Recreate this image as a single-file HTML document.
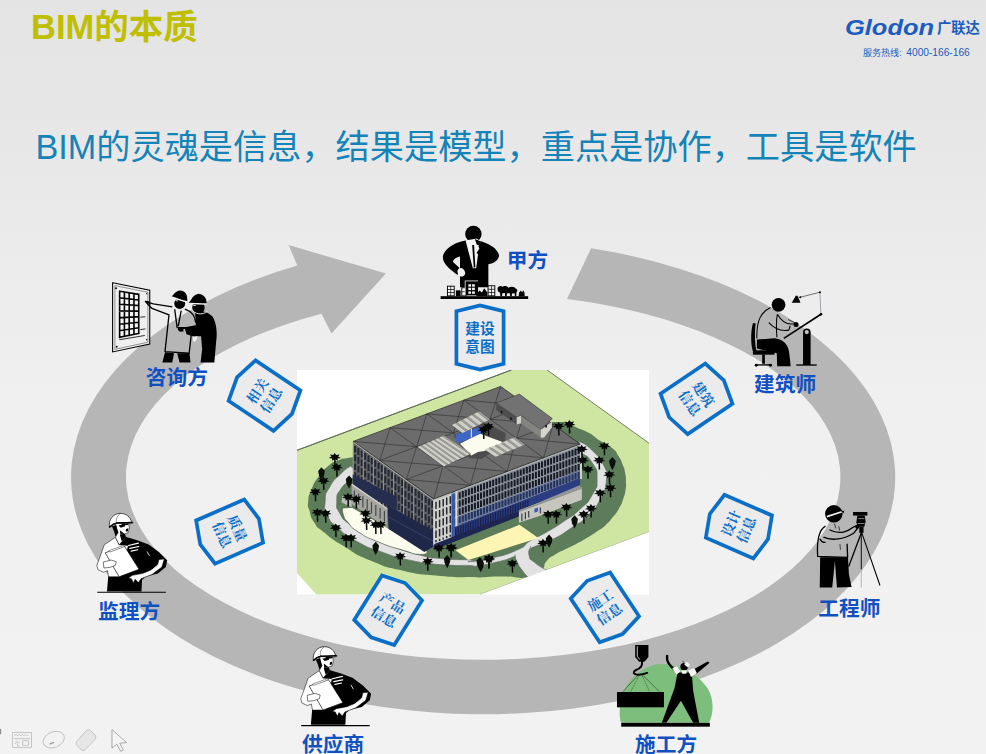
<!DOCTYPE html>
<html><head><meta charset="utf-8"><title>BIM</title>
<style>html,body{margin:0;padding:0;background:#ececec;font-family:"Liberation Sans",sans-serif}body{width:986px;height:754px;overflow:hidden}</style>
</head><body><svg width="986" height="754" viewBox="0 0 986 754" style="display:block"><desc>BIM的本质 — BIM的灵魂是信息，结果是模型，重点是协作，工具是软件。甲方 建筑师 工程师 施工方 供应商 监理方 咨询方；建设意图 建筑信息 设计信息 施工信息 产品信息 质量信息 相关信息。Glodon 广联达 服务热线: 4000-166-166</desc><defs>
<linearGradient id="bg" x1="0" y1="0" x2="0" y2="1">
<stop offset="0" stop-color="#e3e4e3"/><stop offset="0.13" stop-color="#e6e6e6"/><stop offset="0.33" stop-color="#ebebeb"/><stop offset="0.53" stop-color="#f0f0f0"/><stop offset="1" stop-color="#f2f2f2"/>
</linearGradient>
</defs>
<rect width="986" height="754" fill="url(#bg)"/>
<path d="M591.1 248.3A412.1 237.1 0 1 1 297.3 265.5L288.6 245L385.9 273.6L331.5 333.5L321.5 313.8A357.2 182.9 0 1 0 567.0 299.1Z" fill="#b6b6b6"/>
<clipPath id="bc"><rect x="297" y="370" width="352" height="224.5"/></clipPath><rect x="297" y="370" width="352" height="224.5" fill="#fff"/><g clip-path="url(#bc)"><path fill="#cfe6a2" d="M297.0 450.3L511.4 370.0L547.1 370.0L649.0 443.2L649.0 532.0L480.1 594.5L316.6 594.8L297.0 573.0Z"/><path fill="none" stroke="#55604a" stroke-width="0.8" d="M297.0 450.3L511.4 370.0"/><path fill="none" stroke="#55604a" stroke-width="0.8" d="M297.0 450.3L515.0 368.6M545.5 368.8L649.0 443.2"/><path fill="none" stroke="#8a967a" stroke-width="0.7" d="M649.0 532.0L480.1 594.5"/><path fill="#5c7c5a" d="M351.1 457.4C339.8 459.5 345.7 457.4 337.9 460.4C330.0 463.5 334.1 461.1 327.6 466.6C321.2 472.0 323.8 469.3 318.5 476.8C313.1 484.3 315.1 480.9 311.7 489.0C308.3 497.2 308.9 493.8 308.2 501.3C307.6 508.8 307.6 504.4 309.7 511.5C311.7 518.7 309.7 515.9 314.4 522.7C319.0 529.5 313.7 524.1 323.6 531.9C333.4 539.8 328.3 536.7 344.0 546.2C359.6 555.8 350.8 552.4 370.5 560.5C390.3 568.7 380.1 565.6 403.2 570.7C426.4 575.9 415.5 573.7 440.0 575.9C464.5 578.0 463.6 576.7 476.8 577.3C490.0 577.8 471.2 577.8 479.6 577.5C488.1 577.2 486.1 576.5 502.1 576.5C518.1 576.4 514.7 579.2 527.7 577.3C540.6 575.4 534.6 576.2 540.9 570.7C547.3 565.3 541.9 566.4 546.7 560.9C551.4 555.5 549.0 558.3 555.2 554.4C561.5 550.5 558.6 552.7 565.4 549.3C572.3 545.9 568.9 547.8 575.7 544.2C582.5 540.6 579.1 542.6 585.9 538.5C592.7 534.4 589.6 536.3 596.1 531.9C602.6 527.6 599.8 530.2 605.3 525.4C610.7 520.6 607.9 523.3 612.4 517.6C617.0 512.0 615.4 514.6 619.0 508.4C622.5 502.3 620.9 505.4 623.1 499.2C625.2 493.1 624.6 496.2 625.5 490.1C626.5 483.9 626.1 486.6 625.9 480.9C625.8 475.1 626.2 478.1 625.1 472.7C624.0 467.2 624.8 470.0 622.6 464.5C620.5 459.1 622.0 461.8 618.6 456.3C615.2 450.9 618.1 453.2 612.4 448.2C606.8 443.2 612.3 447.8 601.5 441.4C590.7 435.0 596.2 435.3 580.1 428.9C564.0 422.5 571.2 421.5 553.3 422.1C535.5 422.7 564.4 422.5 526.6 430.7C488.7 438.9 491.3 439.0 439.8 446.8C388.3 454.5 401.5 450.4 372.0 453.9C342.4 457.4 362.5 455.2 351.1 457.4Z"/><path fill="#e2e2e2" stroke="#66706a" stroke-width="0.7" d="M350.5 466.1C347.3 468.7 347.9 466.8 340.9 473.7C334.0 480.7 334.9 477.8 329.7 487.0C324.4 496.2 325.9 491.8 325.2 501.3C324.5 510.8 323.4 506.7 327.6 515.6C331.9 524.4 328.3 519.3 337.9 527.8C347.4 536.4 341.3 533.0 356.2 541.1C371.2 549.3 364.4 545.9 382.8 552.4C401.2 558.8 392.3 556.4 411.4 560.5C430.5 564.6 420.3 562.9 440.0 564.6C459.8 566.3 460.8 564.9 470.6 565.6C480.5 566.4 461.7 567.8 469.4 566.9C477.2 565.9 478.3 566.5 493.9 562.8C509.6 559.0 504.2 560.5 516.4 555.6C528.7 550.8 519.1 553.4 530.7 548.3C542.3 543.1 537.5 546.9 551.1 540.1C564.8 533.3 559.3 536.0 571.6 527.8C583.8 519.7 578.4 525.1 587.9 515.6C597.5 506.1 594.0 510.8 600.2 499.2C606.3 487.7 604.9 491.8 606.3 480.9C607.7 470.0 609.0 476.8 604.3 466.6C599.5 456.3 600.2 458.5 592.0 450.2C583.8 441.9 583.8 444.5 579.7 441.6L576.1 447.8C577.6 449.3 575.5 447.4 580.8 452.3C586.1 457.2 586.6 453.6 592.0 462.5C597.5 471.3 597.1 467.9 597.1 478.8C597.1 489.7 597.8 484.9 592.0 495.2C586.2 505.4 589.3 500.6 579.7 509.5C570.2 518.3 575.0 513.9 563.4 521.7C551.8 529.5 555.9 526.7 545.0 533.0C534.1 539.2 540.2 534.7 530.7 540.5C521.2 546.3 530.0 544.3 516.4 550.3C502.8 556.3 505.5 554.7 489.9 558.5C474.2 562.2 475.8 561.0 469.4 561.6C463.0 562.1 480.5 561.1 470.6 560.1C460.8 559.1 457.7 560.4 440.0 558.5C422.3 556.6 434.6 558.8 417.5 554.4C400.5 550.0 406.0 551.3 388.9 545.2C371.9 539.1 379.4 542.8 366.5 536.0C353.5 529.2 359.0 532.3 350.1 524.8C341.3 517.3 344.3 521.4 339.9 513.5C335.5 505.7 336.5 509.5 336.8 501.3C337.2 493.1 335.8 496.5 340.9 489.0C346.0 481.5 346.4 484.3 352.2 478.8C357.9 473.4 356.2 474.7 358.3 472.7Z"/><path fill="#e2e2e2" d="M514.8 554.4C515.7 557.1 514.8 557.1 517.4 562.6C520.0 568.0 518.5 565.3 522.5 570.7C526.6 576.2 527.3 576.2 529.7 578.9L547.1 570.7C543.0 568.0 540.8 567.7 534.8 562.6C528.8 557.5 530.4 560.9 529.1 555.4C527.7 550.0 530.2 549.3 530.7 546.2Z"/><path fill="none" stroke="#66706a" stroke-width="0.7" d="M514.8 554.4C515.7 557.1 514.8 557.1 517.4 562.6C520.0 568.0 518.5 565.3 522.5 570.7C526.6 576.2 527.3 576.2 529.7 578.9M530.7 546.2C530.2 549.3 527.7 550.0 529.1 555.4C530.4 560.9 528.8 557.5 534.8 562.6C540.8 567.7 543.0 568.0 547.1 570.7"/><path fill="#fff" d="M649.0 532.0L480.1 594.5L649.0 596.2Z"/><path fill="#fbfbee" stroke="#4a5a4a" stroke-width="0.7" d="M342.4 508.0C342.8 510.5 341.8 510.9 343.6 515.6C345.3 520.3 342.8 516.7 347.7 522.1C352.6 527.6 347.9 525.3 358.3 531.9C368.6 538.6 363.7 536.0 378.7 542.1C393.7 548.3 389.6 546.2 403.2 550.3C416.9 554.4 411.3 553.9 419.6 554.4C427.9 554.9 425.3 552.8 428.2 552.0L385.9 526.8L352.2 507.4Z"/><path fill="#fdf5b4" d="M455.5 550.3L519.5 524.8L538.3 538.1L468.4 559.9Z"/><path fill="#5e6165" d="M353.2 441.4L433.8 499.0L433.8 548.2L353.2 492.4Z"/><path d="M355.1 445.9L355.1 485.7M358.4 448.3L358.4 488.0M361.8 450.7L361.8 490.3M365.1 453.1L365.1 492.7M368.5 455.5L368.5 495.0M371.9 457.9L371.9 497.3M375.2 460.3L375.2 499.6M378.6 462.7L378.6 502.0M381.9 465.1L381.9 504.3M385.3 467.5L385.3 506.6M388.6 469.9L388.6 508.9M392.0 472.3L392.0 511.3M395.4 474.7L395.4 513.6M398.7 477.1L398.7 515.9M402.1 479.5L402.1 518.2M405.4 481.9L405.4 520.6M408.8 484.3L408.8 522.9M412.1 486.7L412.1 525.2M415.5 489.1L415.5 527.5M418.9 491.5L418.9 529.9M422.2 493.9L422.2 532.2M425.6 496.3L425.6 534.5M428.9 498.7L428.9 536.8M432.3 501.1L432.3 539.2" stroke="#25282f" stroke-width="2.0" fill="none" stroke-dasharray="6.6 2.2"/><path d="M353.2 443.4L353.2 484.4M363.3 450.6L363.3 491.4M373.4 457.8L373.4 498.4M383.4 465.0L383.4 505.3M393.5 472.2L393.5 512.3M403.6 479.4L403.6 519.3M413.7 486.6L413.7 526.3M423.7 493.8L423.7 533.2" stroke="#9a9c9a" stroke-width="0.9" fill="none"/><path fill="#262e50" d="M352.7 474.4L396.8 496.8L396.8 510.1L352.7 487.4Z"/><path fill="#20284a" d="M387.1 504.9L433.3 530.5L433.3 546.8L424.4 552.0L388.7 528.9Z"/><path d="M387.1 516.3L433.3 541.4" stroke="#3d4a7a" stroke-width="0.7" fill="none"/><path fill="#a4a59f" d="M351.7 483.5L387.4 508.2L387.4 528.0L351.7 504.1Z"/><path fill="#d0d0ca" d="M351.7 483.5L387.4 508.2L387.4 509.8L351.7 485.3Z"/><path d="M354.3 490.4L354.3 502.0M358.6 493.4L358.6 504.8M362.9 496.3L362.9 507.6M367.2 499.2L367.2 510.4M371.5 502.2L371.5 513.2M375.8 505.1L375.8 516.0M380.1 508.0L380.1 518.8M384.4 511.0L384.4 521.6" stroke="#45484c" stroke-width="1.2" fill="none"/><path fill="#bdbeb8" d="M341.6 502.5L351.7 507.3L351.7 500.4L342.3 496.0Z"/><path fill="#8d939d" d="M433.8 499.0L580.1 444.1L580.1 491.1L433.8 548.2Z"/><path d="M435.3 501.4L435.3 535.1M438.4 500.3L438.4 533.9M441.4 499.1L441.4 532.7M444.5 498.0L444.5 531.5M447.5 496.9L447.5 530.3M450.6 495.7L450.6 529.2M453.6 494.6L453.6 528.0M456.7 493.4L456.7 526.8M459.7 492.3L459.7 525.6M462.8 491.1L462.8 524.4M465.8 490.0L465.8 523.2M468.9 488.8L468.9 522.0M471.9 487.7L471.9 520.8M474.9 486.6L474.9 519.6M478.0 485.4L478.0 518.4M481.0 484.3L481.0 517.3M484.1 483.1L484.1 516.1M487.1 482.0L487.1 514.9M490.2 480.8L490.2 513.7M493.2 479.7L493.2 512.5M496.3 478.5L496.3 511.3M499.3 477.4L499.3 510.1M502.4 476.3L502.4 508.9M505.4 475.1L505.4 507.7M508.5 474.0L508.5 506.5M511.5 472.8L511.5 505.4M514.6 471.7L514.6 504.2M517.6 470.5L517.6 503.0M520.7 469.4L520.7 501.8M523.7 468.2L523.7 500.6M526.8 467.1L526.8 499.4M529.8 466.0L529.8 498.2M532.9 464.8L532.9 497.0M535.9 463.7L535.9 495.8M539.0 462.5L539.0 494.6M542.0 461.4L542.0 493.5M545.1 460.2L545.1 492.3M548.1 459.1L548.1 491.1M551.1 458.0L551.1 489.9M554.2 456.8L554.2 488.7M557.2 455.7L557.2 487.5M560.3 454.5L560.3 486.3M563.3 453.4L563.3 485.1M566.4 452.2L566.4 483.9M569.4 451.1L569.4 482.7M572.5 449.9L572.5 481.6M575.5 448.8L575.5 480.4M578.6 447.7L578.6 479.2" stroke="#161a24" stroke-width="2.0" fill="none" stroke-dasharray="6.4 1.7"/><path fill="#3b56a8" opacity="0.42" d="M433.8 526.5L580.1 470.1L580.1 477.6L433.8 534.5Z"/><path fill="#cfd1cc" d="M433.8 499.0L451.6 492.3L451.6 540.2L433.8 547.2Z"/><path d="M436.0 501.7L436.0 542.3M439.6 500.3L439.6 540.9M443.2 499.0L443.2 539.5M446.7 497.6L446.7 538.2M450.3 496.3L450.3 536.8" stroke="#23262e" stroke-width="1.5" fill="none" stroke-dasharray="7.4 2.2"/><path fill="#3558ac" d="M451.6 492.3L454.6 491.2L454.6 538.1L451.6 539.2Z"/><path fill="#dddeda" d="M455.4 491.2L457.5 490.1L457.5 526.9L455.4 528.1Z"/><path fill="#2b3c80" d="M454.6 527.1L580.1 478.1L580.1 485.1L454.6 538.1Z"/><path d="M455.7 527.6L455.7 536.6M458.2 526.7L458.2 535.7M460.7 525.7L460.7 534.7M463.2 524.7L463.2 533.7M465.7 523.7L465.7 532.7M468.2 522.8L468.2 531.8M470.7 521.8L470.7 530.8M473.2 520.8L473.2 529.8M475.6 519.9L475.6 528.9M478.1 518.9L478.1 527.9M480.6 517.9L480.6 526.9M483.1 517.0L483.1 526.0M485.6 516.0L485.6 525.0M488.1 515.0L488.1 524.0M490.6 514.0L490.6 523.0M493.1 513.1L493.1 522.1M495.5 512.1L495.5 521.1M498.0 511.1L498.0 520.1M500.5 510.2L500.5 519.2M503.0 509.2L503.0 518.2M505.5 508.2L505.5 517.2M508.0 507.2L508.0 516.2M510.5 506.3L510.5 515.3M513.0 505.3L513.0 514.3M515.4 504.3L515.4 513.3M517.9 503.4L517.9 512.4M520.4 502.4L520.4 511.4M522.9 501.4L522.9 510.4M525.4 500.4L525.4 509.4M527.9 499.5L527.9 508.5" stroke="#18204a" stroke-width="1.2" fill="none"/><path fill="#1d2550" d="M433.8 544.2L527.4 507.6L527.4 513.1L433.8 549.7Z"/><path fill="#c6c6be" d="M518.9 510.3L581.9 487.1L581.9 499.8L541.7 515.2L518.9 522.8Z"/><path fill="#8f9088" d="M518.9 510.3L581.9 487.1L581.9 488.7L518.9 512.1Z"/><path d="M521.9 513.6L521.9 520.9M525.4 512.3L525.4 519.2M528.7 511.1L528.7 517.6M540.4 507.6L540.4 513.6" stroke="#3a4150" stroke-width="1.2"/><path fill="#3d5fb0" d="M534.4 508.7L538.1 507.4L538.1 511.5L534.4 512.8Z"/><path fill="#dcdcd6" d="M580.1 444.1L581.9 445.0L581.9 479.1L580.1 479.1Z"/><path fill="#6c6c6c" stroke="#2e2e2e" stroke-width="0.8" stroke-linejoin="round" d="M353.2 441.4L500.7 386.4L580.1 444.1L433.8 499.0Z"/><path fill="none" stroke="#bdbdb8" stroke-width="0.9" d="M353.7 442.6L433.8 500.4L579.6 445.3"/><path d="M353.2 441.4L416.6 446.7M390.1 427.7L379.8 460.4M390.1 427.7L453.4 432.9M426.9 413.9L416.6 446.7M426.9 413.9L490.1 419.2M463.8 400.2L453.4 432.9M463.8 400.2L526.9 405.4M500.7 386.4L490.1 419.2M379.8 460.4L443.1 465.7M416.6 446.7L406.4 479.4M490.1 419.2L553.1 424.5M526.9 405.4L516.4 438.2M406.4 479.4L470.4 485.3M443.1 465.7L433.8 499.0M443.1 465.7L507.0 471.5M479.8 451.9L470.4 485.3M479.8 451.9L543.5 457.8M516.4 438.2L507.0 471.5M516.4 438.2L580.1 444.1M553.1 424.5L543.5 457.8M379.8 460.4L526.9 405.4M406.4 479.4L553.1 424.5M390.1 427.7L470.4 485.3M426.9 413.9L507.0 471.5M463.8 400.2L543.5 457.8" stroke="#2f2f2f" stroke-width="0.6" fill="none"/><path fill="#4c4c4c" d="M453.5 435.6L481.1 421.0L505.5 433.1L505.5 443.7L481.1 459.1L469.8 458.3Z"/><path fill="#fbfbee" d="M460.0 443.7L479.5 433.6L503.9 442.4L484.4 451.0L477.9 452.1L471.4 455.4Z"/><path fill="#3f66c4" d="M455.5 434.3L481.1 426.8L481.1 433.6L460.0 443.0L456.1 441.2Z"/><path d="M471.4 428.3L471.4 437.5" stroke="#d8d8d2" stroke-width="1.2"/><path fill="#cfcfc8" d="M417.8 446.9L420.5 445.8L446.7 465.1L443.8 466.4Z"/><path fill="#9c9c96" d="M420.5 445.8L422.2 445.0L448.4 464.2L446.7 465.1Z"/><path fill="#cfcfc8" d="M422.2 445.0L424.9 443.9L451.3 462.9L448.4 464.2Z"/><path fill="#9c9c96" d="M424.9 443.9L426.5 443.1L453.0 462.1L451.3 462.9Z"/><path fill="#cfcfc8" d="M426.5 443.1L429.2 442.0L455.9 460.7L453.0 462.1Z"/><path fill="#9c9c96" d="M429.2 442.0L430.8 441.2L457.6 459.9L455.9 460.7Z"/><path fill="#cfcfc8" d="M430.8 441.2L433.5 440.1L460.5 458.6L457.6 459.9Z"/><path fill="#9c9c96" d="M433.5 440.1L435.2 439.4L462.2 457.7L460.5 458.6Z"/><path fill="#cfcfc8" d="M435.2 439.4L437.8 438.2L465.1 456.4L462.2 457.7Z"/><path fill="#9c9c96" d="M437.8 438.2L439.5 437.5L466.8 455.6L465.1 456.4Z"/><path fill="#cfcfc8" d="M439.5 437.5L442.2 436.3L469.7 454.2L466.8 455.6Z"/><path fill="#9c9c96" d="M442.2 436.3L443.8 435.6L471.4 453.4L469.7 454.2Z"/><path fill="#cfcfc8" d="M451.9 425.0L455.3 423.3L465.9 431.4L462.5 433.1Z"/><path fill="#9c9c96" d="M455.3 423.3L457.4 422.3L468.0 430.4L465.9 431.4Z"/><path fill="#cfcfc8" d="M457.4 422.3L460.9 420.6L471.4 428.7L468.0 430.4Z"/><path fill="#9c9c96" d="M460.9 420.6L463.0 419.5L473.5 427.6L471.4 428.7Z"/><path fill="#cfcfc8" d="M463.0 419.5L466.4 417.8L476.9 425.9L473.5 427.6Z"/><path fill="#9c9c96" d="M466.4 417.8L468.5 416.7L479.0 424.9L476.9 425.9Z"/><path fill="#cfcfc8" d="M468.5 416.7L471.9 415.0L482.4 423.1L479.0 424.9Z"/><path fill="#9c9c96" d="M471.9 415.0L474.0 414.0L484.5 422.1L482.4 423.1Z"/><path fill="#cfcfc8" d="M474.0 414.0L477.4 412.3L488.0 420.4L484.5 422.1Z"/><path fill="#9c9c96" d="M477.4 412.3L479.5 411.2L490.1 419.3L488.0 420.4Z"/><path fill="#cfcfc8" d="M484.4 449.4L488.2 447.9L499.4 455.2L495.7 456.7Z"/><path fill="#9c9c96" d="M488.2 447.9L490.5 446.9L501.6 454.2L499.4 455.2Z"/><path fill="#cfcfc8" d="M490.5 446.9L494.4 445.4L505.2 452.7L501.6 454.2Z"/><path fill="#9c9c96" d="M494.4 445.4L496.7 444.5L507.4 451.8L505.2 452.7Z"/><path fill="#cfcfc8" d="M496.7 444.5L500.5 443.0L511.0 450.3L507.4 451.8Z"/><path fill="#9c9c96" d="M500.5 443.0L502.9 442.1L513.3 449.4L511.0 450.3Z"/><path fill="#cfcfc8" d="M502.9 442.1L506.7 440.5L516.9 447.9L513.3 449.4Z"/><path fill="#9c9c96" d="M506.7 440.5L509.0 439.6L519.1 446.9L516.9 447.9Z"/><path fill="#cfcfc8" d="M509.0 439.6L512.9 438.1L522.7 445.4L519.1 446.9Z"/><path fill="#9c9c96" d="M512.9 438.1L515.2 437.2L524.9 444.5L522.7 445.4Z"/><path fill="#727272" stroke="#2e2e2e" stroke-width="0.5" d="M496.2 403.0L519.4 394.1L552.4 418.6L540.5 429.8L521.2 415.5L516.7 417.3Z"/><path fill="#4e4e4e" d="M496.2 403.0L516.7 417.3L516.7 424.4L496.2 410.2Z"/><path fill="#d2d2ca" d="M516.7 417.3L521.2 415.5L521.2 423.2L516.7 424.4Z"/><path fill="#858580" d="M521.2 416.1L540.8 429.8L540.8 437.8L521.2 423.6Z"/><path fill="#d6d6ce" d="M540.8 429.8L551.9 421.8L551.9 427.5L544.0 437.5L540.8 437.8Z"/><rect x="500.7" y="410.7" width="1.6" height="2.6" fill="#111"/><rect x="510.1" y="417.3" width="1.6" height="2.6" fill="#111"/><rect x="545.3" y="425.0" width="1.6" height="2.6" fill="#111"/><path d="M433.8 500.0L433.8 545.2" stroke="#e4e4de" stroke-width="0.9"/><path fill="#050805" d="M340.9 457.9L337.5 458.4L337.7 460.7L334.9 459.3L332.2 460.8L332.2 458.5L328.7 458.1L331.5 456.6L329.8 454.6L333.3 455.1L334.6 452.9L336.2 455.0L339.6 454.4L338.1 456.5Z"/><path d="M334.8 457.4L335.0 466.5" stroke="#050805" stroke-width="1.5"/><path fill="#050805" d="M343.0 468.1L339.5 468.6L339.7 471.0L336.9 469.5L334.3 471.1L334.3 468.7L330.8 468.3L333.5 466.8L331.8 464.8L335.3 465.3L336.7 463.1L338.2 465.3L341.6 464.6L340.1 466.7Z"/><path d="M336.8 467.6L337.0 476.8" stroke="#050805" stroke-width="1.5"/><path fill="#050805" d="M329.7 481.4L326.2 481.9L326.4 484.2L323.6 482.8L321.0 484.3L321.0 482.0L317.5 481.6L320.3 480.1L318.6 478.1L322.0 478.6L323.4 476.4L324.9 478.5L328.4 477.9L326.8 480.0Z"/><path d="M323.6 480.9L323.8 490.0" stroke="#050805" stroke-width="1.5"/><path fill="#050805" d="M321.5 492.6L318.1 493.1L318.2 495.5L315.5 494.0L312.8 495.6L312.8 493.2L309.3 492.8L312.1 491.4L310.4 489.3L313.9 489.8L315.2 487.7L316.8 489.8L320.2 489.1L318.6 491.2Z"/><path d="M315.4 492.1L315.6 501.3" stroke="#050805" stroke-width="1.5"/><path fill="#050805" d="M323.6 513.0L320.1 513.6L320.3 515.9L317.5 514.4L314.8 516.0L314.9 513.6L311.4 513.2L314.1 511.8L312.4 509.7L315.9 510.2L317.3 508.1L318.8 510.2L322.2 509.6L320.7 511.7Z"/><path d="M317.4 512.5L317.6 521.7" stroke="#050805" stroke-width="1.5"/><path fill="#050805" d="M331.7 514.1L328.3 514.6L328.5 516.9L325.7 515.5L323.0 517.0L323.0 514.7L319.5 514.3L322.3 512.8L320.6 510.7L324.1 511.3L325.4 509.1L327.0 511.2L330.4 510.6L328.9 512.7Z"/><path d="M325.6 513.5L325.8 522.7" stroke="#050805" stroke-width="1.5"/><path fill="#050805" d="M342.0 528.4L338.5 528.9L338.7 531.2L335.9 529.8L333.2 531.3L333.2 529.0L329.7 528.6L332.5 527.1L330.8 525.0L334.3 525.6L335.7 523.4L337.2 525.5L340.6 524.9L339.1 527.0Z"/><path d="M335.8 527.8L336.0 537.0" stroke="#050805" stroke-width="1.5"/><path fill="#050805" d="M352.2 538.6L348.7 539.1L348.9 541.4L346.1 540.0L343.4 541.5L343.5 539.2L340.0 538.8L342.7 537.3L341.0 535.3L344.5 535.8L345.9 533.6L347.4 535.7L350.8 535.1L349.3 537.2Z"/><path d="M346.0 538.1L346.2 547.2" stroke="#050805" stroke-width="1.5"/><path fill="#050805" d="M357.3 538.6L353.8 539.1L354.0 541.4L351.2 540.0L348.6 541.5L348.6 539.2L345.1 538.8L347.8 537.3L346.1 535.3L349.6 535.8L351.0 533.6L352.5 535.7L355.9 535.1L354.4 537.2Z"/><path d="M351.1 538.1L351.3 547.2" stroke="#050805" stroke-width="1.5"/><path fill="#050805" d="M354.2 497.7L350.7 498.2L350.9 500.6L348.2 499.1L345.5 500.7L345.5 498.3L342.0 497.9L344.8 496.5L343.1 494.4L346.5 494.9L347.9 492.8L349.5 494.9L352.9 494.2L351.3 496.4Z"/><path d="M348.1 497.2L348.3 506.4" stroke="#050805" stroke-width="1.5"/><path fill="#050805" d="M362.4 499.8L358.9 500.3L359.1 502.6L356.3 501.2L353.7 502.7L353.7 500.4L350.2 500.0L353.0 498.5L351.2 496.4L354.7 497.0L356.1 494.8L357.6 496.9L361.1 496.3L359.5 498.4Z"/><path d="M356.2 499.2L356.4 508.4" stroke="#050805" stroke-width="1.5"/><path fill="#050805" d="M371.6 514.1L368.1 514.6L368.3 516.9L365.5 515.5L362.9 517.0L362.9 514.7L359.4 514.3L362.1 512.8L360.4 510.7L363.9 511.3L365.3 509.1L366.8 511.2L370.2 510.6L368.7 512.7Z"/><path d="M365.4 513.5L365.6 522.7" stroke="#050805" stroke-width="1.5"/><path fill="#050805" d="M372.6 521.2L369.1 521.7L369.3 524.1L366.5 522.6L363.9 524.2L363.9 521.8L360.4 521.4L363.2 520.0L361.5 517.9L364.9 518.4L366.3 516.3L367.8 518.4L371.3 517.7L369.7 519.8Z"/><path d="M366.5 520.7L366.7 529.9" stroke="#050805" stroke-width="1.5"/><path fill="#050805" d="M381.8 525.3L378.3 525.8L378.5 528.2L375.7 526.7L373.1 528.3L373.1 525.9L369.6 525.5L372.4 524.0L370.7 522.0L374.1 522.5L375.5 520.3L377.0 522.5L380.5 521.8L378.9 523.9Z"/><path d="M375.7 524.8L375.9 534.0" stroke="#050805" stroke-width="1.5"/><path fill="#050805" d="M386.9 525.3L383.4 525.8L383.6 528.2L380.8 526.7L378.2 528.3L378.2 525.9L374.7 525.5L377.5 524.0L375.8 522.0L379.2 522.5L380.6 520.3L382.1 522.5L385.6 521.8L384.0 523.9Z"/><path d="M380.8 524.8L381.0 534.0" stroke="#050805" stroke-width="1.5"/><path fill="#050805" d="M406.3 557.0L402.8 557.5L403.0 559.8L400.2 558.4L397.6 559.9L397.6 557.6L394.1 557.2L396.9 555.7L395.2 553.6L398.6 554.2L400.0 552.0L401.6 554.1L405.0 553.5L403.4 555.6Z"/><path d="M400.2 556.4L400.4 565.6" stroke="#050805" stroke-width="1.5"/><path fill="#050805" d="M433.9 562.1L430.4 562.6L430.6 564.9L427.8 563.5L425.2 565.0L425.2 562.7L421.7 562.3L424.5 560.8L422.7 558.8L426.2 559.3L427.6 557.1L429.1 559.2L432.6 558.6L431.0 560.7Z"/><path d="M427.7 561.6L427.9 570.7" stroke="#050805" stroke-width="1.5"/><path fill="#050805" d="M445.1 548.8L441.7 549.3L441.8 551.7L439.1 550.2L436.4 551.7L436.4 549.4L432.9 549.0L435.7 547.5L434.0 545.5L437.5 546.0L438.8 543.8L440.4 546.0L443.8 545.3L442.2 547.4Z"/><path d="M439.0 548.3L439.2 557.5" stroke="#050805" stroke-width="1.5"/><path fill="#050805" d="M457.4 547.8L453.9 548.3L454.1 550.6L451.3 549.2L448.7 550.7L448.7 548.4L445.2 548.0L447.9 546.5L446.2 544.5L449.7 545.0L451.1 542.8L452.6 544.9L456.0 544.3L454.5 546.4Z"/><path d="M451.2 547.3L451.4 556.4" stroke="#050805" stroke-width="1.5"/><path fill="#050805" d="M495.2 559.0L491.7 559.5L491.9 561.9L489.1 560.4L486.5 562.0L486.5 559.6L483.0 559.2L485.7 557.7L484.0 555.7L487.5 556.2L488.9 554.0L490.4 556.2L493.8 555.5L492.3 557.6Z"/><path d="M489.0 558.5L489.2 567.7" stroke="#050805" stroke-width="1.5"/><path fill="#050805" d="M610.4 446.7L606.9 447.2L607.1 449.5L604.3 448.0L601.7 449.6L601.7 447.3L598.2 446.8L601.0 445.4L599.3 443.3L602.7 443.9L604.1 441.7L605.6 443.8L609.1 443.2L607.5 445.3Z"/><path d="M604.3 446.1L604.5 455.3" stroke="#050805" stroke-width="1.5"/><path fill="#050805" d="M605.3 461.0L601.8 461.5L602.0 463.8L599.2 462.3L596.6 463.9L596.6 461.6L593.1 461.1L595.9 459.7L594.2 457.6L597.6 458.2L599.0 456.0L600.5 458.1L604.0 457.5L602.4 459.6Z"/><path d="M599.2 460.4L599.4 469.6" stroke="#050805" stroke-width="1.5"/><path fill="#050805" d="M615.5 475.3L612.0 475.8L612.2 478.1L609.4 476.6L606.8 478.2L606.8 475.9L603.3 475.4L606.1 474.0L604.4 471.9L607.8 472.5L609.2 470.3L610.8 472.4L614.2 471.8L612.6 473.9Z"/><path d="M609.4 474.7L609.6 483.9" stroke="#050805" stroke-width="1.5"/><path fill="#050805" d="M616.5 488.5L613.1 489.0L613.2 491.4L610.5 489.9L607.8 491.5L607.8 489.1L604.3 488.7L607.1 487.3L605.4 485.2L608.9 485.7L610.2 483.6L611.8 485.7L615.2 485.0L613.6 487.2Z"/><path d="M610.4 488.0L610.6 497.2" stroke="#050805" stroke-width="1.5"/><path fill="#050805" d="M606.3 493.6L602.9 494.2L603.0 496.5L600.3 495.0L597.6 496.6L597.6 494.2L594.1 493.8L596.9 492.4L595.2 490.3L598.6 490.8L600.0 488.7L601.6 490.8L605.0 490.2L603.4 492.3Z"/><path d="M600.2 493.1L600.4 502.3" stroke="#050805" stroke-width="1.5"/><path fill="#050805" d="M594.1 470.1L590.6 470.7L590.8 473.0L588.0 471.5L585.3 473.1L585.3 470.7L581.8 470.3L584.6 468.9L582.9 466.8L586.4 467.3L587.8 465.2L589.3 467.3L592.7 466.7L591.2 468.8Z"/><path d="M587.9 469.6L588.1 478.8" stroke="#050805" stroke-width="1.5"/><path fill="#050805" d="M597.1 509.0L593.7 509.5L593.8 511.8L591.1 510.4L588.4 511.9L588.4 509.6L584.9 509.2L587.7 507.7L586.0 505.6L589.5 506.2L590.8 504.0L592.4 506.1L595.8 505.5L594.2 507.6Z"/><path d="M591.0 508.4L591.2 517.6" stroke="#050805" stroke-width="1.5"/><path fill="#050805" d="M590.0 515.1L586.5 515.6L586.7 518.0L583.9 516.5L581.2 518.0L581.3 515.7L577.8 515.3L580.5 513.8L578.8 511.8L582.3 512.3L583.7 510.1L585.2 512.2L588.6 511.6L587.1 513.7Z"/><path d="M583.8 514.6L584.0 523.7" stroke="#050805" stroke-width="1.5"/><path fill="#050805" d="M572.6 507.9L569.1 508.5L569.3 510.8L566.5 509.3L563.9 510.9L563.9 508.5L560.4 508.1L563.2 506.7L561.5 504.6L564.9 505.1L566.3 503.0L567.9 505.1L571.3 504.5L569.7 506.6Z"/><path d="M566.5 507.4L566.7 516.6" stroke="#050805" stroke-width="1.5"/><path fill="#050805" d="M562.4 515.1L558.9 515.6L559.1 518.0L556.3 516.5L553.7 518.0L553.7 515.7L550.2 515.3L553.0 513.8L551.3 511.8L554.7 512.3L556.1 510.1L557.6 512.2L561.1 511.6L559.5 513.7Z"/><path d="M556.3 514.6L556.5 523.7" stroke="#050805" stroke-width="1.5"/><path fill="#050805" d="M554.2 515.1L550.8 515.6L550.9 518.0L548.2 516.5L545.5 518.0L545.5 515.7L542.0 515.3L544.8 513.8L543.1 511.8L546.5 512.3L547.9 510.1L549.5 512.2L552.9 511.6L551.3 513.7Z"/><path d="M548.1 514.6L548.3 523.7" stroke="#050805" stroke-width="1.5"/><path fill="#050805" d="M549.1 543.7L545.7 544.2L545.8 546.6L543.1 545.1L540.4 546.6L540.4 544.3L536.9 543.9L539.7 542.4L538.0 540.4L541.4 540.9L542.8 538.7L544.4 540.8L547.8 540.2L546.2 542.3Z"/><path d="M543.0 543.2L543.2 552.4" stroke="#050805" stroke-width="1.5"/><path fill="#050805" d="M457.2 548.8L453.7 549.3L453.9 551.7L451.1 550.2L448.5 551.7L448.5 549.4L445.0 549.0L447.7 547.5L446.0 545.5L449.5 546.0L450.9 543.8L452.4 546.0L455.8 545.3L454.3 547.4Z"/><path d="M451.0 548.3L451.2 557.5" stroke="#050805" stroke-width="1.5"/><path fill="#050805" d="M495.0 560.0L491.5 560.5L491.7 562.9L488.9 561.4L486.3 563.0L486.3 560.6L482.8 560.2L485.5 558.8L483.8 556.7L487.3 557.2L488.7 555.1L490.2 557.2L493.6 556.6L492.1 558.7Z"/><path d="M488.8 559.5L489.0 568.7" stroke="#050805" stroke-width="1.5"/><path fill="#050805" d="M518.5 564.1L515.0 564.6L515.2 567.0L512.4 565.5L509.7 567.1L509.8 564.7L506.3 564.3L509.0 562.9L507.3 560.8L510.8 561.3L512.2 559.2L513.7 561.3L517.1 560.6L515.6 562.7Z"/><path d="M512.3 563.6L512.5 572.8" stroke="#050805" stroke-width="1.5"/><path fill="#050805" d="M587.9 449.7L584.5 450.2L584.6 452.6L581.9 451.1L579.2 452.7L579.2 450.3L575.7 449.9L578.5 448.5L576.8 446.4L580.3 446.9L581.6 444.8L583.2 446.9L586.6 446.2L585.0 448.3Z"/><path d="M581.8 449.2L582.0 458.4" stroke="#050805" stroke-width="1.5"/><path fill="#050805" d="M589.0 461.0L585.5 461.5L585.7 463.8L582.9 462.3L580.2 463.9L580.2 461.6L576.7 461.1L579.5 459.7L577.8 457.6L581.3 458.2L582.7 456.0L584.2 458.1L587.6 457.5L586.1 459.6Z"/><path d="M582.8 460.4L583.0 469.6" stroke="#050805" stroke-width="1.5"/><path fill="#050805" d="M575.5 425.0L572.1 425.5L572.3 427.8L569.5 426.4L566.8 427.9L566.8 425.6L563.3 425.2L566.1 423.7L564.4 421.6L567.9 422.2L569.2 420.0L570.8 422.1L574.2 421.5L572.7 423.6Z"/><path d="M569.4 424.4L569.6 433.6" stroke="#050805" stroke-width="1.5"/><path fill="#050805" d="M564.8 426.8L561.4 427.3L561.5 429.6L558.8 428.1L556.1 429.7L556.1 427.4L552.6 426.9L555.4 425.5L553.7 423.4L557.2 424.0L558.5 421.8L560.1 423.9L563.5 423.3L561.9 425.4Z"/><path d="M558.7 426.2L558.9 435.4" stroke="#050805" stroke-width="1.5"/><path fill="#050805" d="M494.6 427.2L491.1 427.7L491.3 430.0L488.5 428.6L485.9 430.1L485.9 427.8L482.4 427.4L485.1 425.9L483.4 423.8L486.9 424.4L488.3 422.2L489.8 424.3L493.2 423.7L491.7 425.8Z"/><path d="M488.4 426.6L488.6 435.8" stroke="#050805" stroke-width="1.5"/><path fill="#050805" d="M489.7 430.4L486.2 430.9L486.4 433.3L483.7 431.8L481.0 433.4L481.0 431.0L477.5 430.6L480.3 429.1L478.6 427.1L482.0 427.6L483.4 425.5L485.0 427.6L488.4 426.9L486.8 429.0Z"/><path d="M483.6 429.9L483.8 439.1" stroke="#050805" stroke-width="1.5"/><path fill="#0a0f0a" d="M321.5 467.2l3.3 3.7l-0.7 4.4l-2.6 5.1l-2.6 -5.1l-0.7 -4.4Z"/><path fill="#0a0f0a" d="M349.1 475.4l3.3 3.7l-0.7 4.4l-2.6 5.1l-2.6 -5.1l-0.7 -4.4Z"/><path fill="#0a0f0a" d="M375.7 541.8l3.3 3.7l-0.7 4.4l-2.6 5.1l-2.6 -5.1l-0.7 -4.4Z"/><path fill="#0a0f0a" d="M447.2 555.0l3.3 3.7l-0.7 4.4l-2.6 5.1l-2.6 -5.1l-0.7 -4.4Z"/><path fill="#0a0f0a" d="M479.8 557.1l3.3 3.7l-0.7 4.4l-2.6 5.1l-2.6 -5.1l-0.7 -4.4Z"/><path fill="#0a0f0a" d="M612.4 457.0l3.3 3.7l-0.7 4.4l-2.6 5.1l-2.6 -5.1l-0.7 -4.4Z"/><path fill="#0a0f0a" d="M574.6 515.2l3.3 3.7l-0.7 4.4l-2.6 5.1l-2.6 -5.1l-0.7 -4.4Z"/><path fill="#0a0f0a" d="M549.1 534.6l3.3 3.7l-0.7 4.4l-2.6 5.1l-2.6 -5.1l-0.7 -4.4Z"/><path fill="#0a0f0a" d="M480.7 559.1l3.3 3.7l-0.7 4.4l-2.6 5.1l-2.6 -5.1l-0.7 -4.4Z"/></g>
<text x="31" y="39.3" font-size="34.5" font-weight="bold" fill="#bfbf00" font-family="'Liberation Sans','Noto Sans CJK SC',sans-serif">BIM的本质</text>
<text x="35.5" y="159.2" font-size="34.2" fill="#1484b8" font-family="'Liberation Sans','Noto Sans CJK SC',sans-serif">BIM的灵魂是信息，结果是模型，重点是协作，工具是软件</text>
<text x="845" y="35.1" font-size="22" font-weight="bold" font-style="italic" fill="#1c5cbc" textLength="89" lengthAdjust="spacingAndGlyphs" font-family="'Liberation Sans',sans-serif">Glodon</text>
<text x="937" y="33.2" font-size="14.3" font-weight="bold" fill="#1c5cbc" font-family="'Liberation Sans','Noto Sans CJK SC',sans-serif">广联达</text>
<text x="863" y="55.8" font-size="9" fill="#1c5cbc" font-family="'Liberation Sans','Noto Sans CJK SC',sans-serif">服务热线:</text>
<text x="906.3" y="56.4" font-size="10.2" fill="#1c5cbc" font-family="'Liberation Sans',sans-serif">4000-166-166</text>
<g transform="translate(430.00 215.00) scale(0.13266)"><circle cx="327" cy="143" r="62" fill="#000"/><path fill="#000" d="M268 193C200 205 128 240 100 300C88 335 112 372 152 408L207 452L222 400L172 352C178 330 200 316 226 312L226 545L440 545L440 372C482 366 516 342 521 306C512 262 470 226 386 198L345 210Z"/><path fill="#f4f4f4" d="M268 193L323 402L348 402L362 300L352 282L372 255L366 238L384 200L352 178Z"/><path fill="#000" d="M318 226L332 226L342 392L330 400Z"/><path fill="#000" d="M338 180L385 200L372 232L352 222Z"/><ellipse cx="236" cy="432" rx="27" ry="33" transform="rotate(-25 236 432)" fill="#f4f4f4"/><rect x="80" y="612" width="660" height="21" fill="#000"/><rect x="128" y="533" width="58" height="80" fill="#000"/><rect x="135.0" y="540.0" width="19.5" height="18.7" fill="#f4f4f4"/><rect x="135.0" y="563.7" width="19.5" height="18.7" fill="#f4f4f4"/><rect x="135.0" y="587.3" width="19.5" height="18.7" fill="#f4f4f4"/><rect x="159.5" y="540.0" width="19.5" height="18.7" fill="#f4f4f4"/><rect x="159.5" y="563.7" width="19.5" height="18.7" fill="#f4f4f4"/><rect x="159.5" y="587.3" width="19.5" height="18.7" fill="#f4f4f4"/><rect x="195" y="568" width="36" height="45" fill="#000"/><rect x="236" y="545" width="40" height="68" fill="#000"/><rect x="243.0" y="552.0" width="26.0" height="24.5" fill="#f4f4f4"/><rect x="243.0" y="581.5" width="26.0" height="24.5" fill="#f4f4f4"/><rect x="262" y="494" width="100" height="110" fill="#f4f4f4"/><rect x="268" y="500" width="94" height="106" fill="#000"/><rect x="289" y="522" width="21" height="18" fill="#f4f4f4"/><rect x="289" y="548" width="21" height="18" fill="#f4f4f4"/><rect x="289" y="576" width="21" height="18" fill="#f4f4f4"/><rect x="317" y="522" width="21" height="18" fill="#f4f4f4"/><rect x="317" y="548" width="21" height="18" fill="#f4f4f4"/><rect x="317" y="576" width="21" height="18" fill="#f4f4f4"/><path fill="#000" d="M350 600L372 570L392 585L408 552L432 585L432 612L350 612Z"/><rect x="434" y="530" width="58" height="83" fill="#000"/><rect x="441.0" y="537.0" width="19.5" height="19.7" fill="#f4f4f4"/><rect x="441.0" y="561.7" width="19.5" height="19.7" fill="#f4f4f4"/><rect x="441.0" y="586.3" width="19.5" height="19.7" fill="#f4f4f4"/><rect x="465.5" y="537.0" width="19.5" height="19.7" fill="#f4f4f4"/><rect x="465.5" y="561.7" width="19.5" height="19.7" fill="#f4f4f4"/><rect x="465.5" y="586.3" width="19.5" height="19.7" fill="#f4f4f4"/><path fill="#000" d="M510 560C505 540 530 528 545 540C560 530 585 535 590 548C610 535 640 540 648 556C660 560 662 575 652 582L650 612L640 612L638 590L618 592L616 612L604 612L602 590L580 590L578 612L566 612L565 588L545 590L543 612L530 612L528 585C515 582 508 572 510 560Z"/><path fill="#000" d="M668 612L672 585L685 570L695 585L702 568L712 585L714 612Z"/></g>
<g transform="translate(100.00 275.00) scale(0.13266)"><path d="M95 58L375 115L375 520L95 580Z" fill="#efefef" stroke="#000" stroke-width="8" stroke-linejoin="miter"/><path d="M112 80L361 130L361 507L112 560Z" fill="none" stroke="#000" stroke-width="3"/><circle cx="121" cy="100" r="7" fill="#000"/><circle cx="352" cy="141" r="5" fill="#000"/><circle cx="352" cy="488" r="5" fill="#000"/><circle cx="126" cy="540" r="7" fill="#000"/><path d="M148 122L292 146L292 440L148 470Z" fill="#f4f4f4"/><path d="M148 122L148 470M184 128L184 462M220 134L220 455M256 140L256 448M292 146L292 440M148 122L292 146M148 172L292 188M148 221L292 230M148 271L292 272M148 321L292 314M148 371L292 356M148 420L292 398M148 470L292 440" stroke="#000" stroke-width="12" fill="none" stroke-linecap="square"/><path d="M146 488L338 456M304 318L342 315M304 412L342 406" stroke="#000" stroke-width="6" fill="none"/><circle cx="742" cy="245" r="47" fill="#000"/><path d="M672 215L804 219" stroke="#f0f0f0" stroke-width="11"/><path fill="#000" d="M668 208C690 196 692 150 742 141C790 146 804 180 803 213L672 209Z"/><ellipse cx="712" cy="230" rx="11" ry="4.5" fill="#f0f0f0"/><path fill="#000" d="M712 268C760 262 820 280 850 315C878 365 886 440 876 500L862 660L758 660L770 560L762 462L700 462L652 446L640 405L590 420L585 392L650 392L722 378L722 330Z"/><path fill="#f0f0f0" d="M700 470L735 462L728 490L712 505L700 495Z"/><path d="M693 262C712 292 770 310 810 272" fill="none" stroke="#f0f0f0" stroke-width="7"/><circle cx="601" cy="215" r="41" fill="#000"/><path d="M544 169L658 204" stroke="#f0f0f0" stroke-width="12"/><path fill="#000" d="M540 160C556 150 566 120 604 116C646 120 662 150 658 197L546 163Z"/><ellipse cx="578" cy="194" rx="11" ry="4.5" transform="rotate(15 578 194)" fill="#f0f0f0"/><path fill="none" stroke="#000" stroke-width="10" stroke-linejoin="round" d="M338 198L402 218L545 240M345 204L392 252L520 300L490 578L672 590L688 450M640 258C690 275 718 310 722 360M563 258L582 400M612 268L590 385"/><path fill="#000" d="M338 194L372 198L380 228Z"/><path fill="#000" d="M490 582L558 590L545 660L470 660ZM582 590L675 590L682 660L600 660Z"/><path fill="#000" d="M590 395L625 395L630 425L600 428Z"/></g>
<g transform="translate(735.00 280.00) scale(0.13266)"><circle cx="328" cy="187" r="52" fill="#000"/><path d="M268 208C200 240 160 300 165 440" fill="none" stroke="#000" stroke-width="8"/><path d="M320 258C350 312 392 338 442 330M255 322C300 372 360 386 406 378L416 345M318 262C308 330 312 380 316 432" fill="none" stroke="#000" stroke-width="8"/><circle cx="460" cy="335" r="19" fill="#000"/><path d="M400 298L452 322" stroke="#000" stroke-width="5"/><path fill="#000" d="M136 325C118 380 118 480 134 536L162 536C148 480 148 380 156 328Z"/><path fill="#000" d="M165 448L300 440C370 450 405 490 410 560L420 650L318 650L315 552L165 516Z"/><rect x="135" y="530" width="163" height="33" fill="#000"/><rect x="205" y="560" width="20" height="72" fill="#000"/><path d="M160 640L272 640" stroke="#000" stroke-width="10"/><circle cx="160" cy="642" r="11" fill="#000"/><circle cx="268" cy="642" r="11" fill="#000"/><path d="M368 440L648 258" stroke="#000" stroke-width="13"/><path fill="#000" d="M513 640L513 395A28 28 0 0 1 570 395L570 640Z"/><circle cx="541" cy="392" r="16" fill="#c4c4c4"/><path d="M462 641L616 641" stroke="#000" stroke-width="10"/><path d="M648 258L640 92" stroke="#7c7c8c" stroke-width="5"/><path d="M640 92L492 130" stroke="#000" stroke-width="4"/><circle cx="640" cy="92" r="8" fill="#000"/><circle cx="492" cy="130" r="8" fill="#000"/><circle cx="648" cy="258" r="10" fill="#000"/><path fill="#000" d="M458 118L472 118L494 172L428 172Z"/></g>
<g transform="translate(785.00 495.00) scale(0.13266)"><circle cx="368" cy="142" r="66" fill="#000"/><path d="M316 163L446 121" stroke="#f0f0f0" stroke-width="12"/><path fill="#000" d="M420 118L448 118L440 140Z"/><path fill="none" stroke="#000" stroke-width="10" stroke-linejoin="round" d="M305 235C258 262 238 330 246 462L472 470L468 368M335 262C392 292 452 286 502 250L536 232M290 318C352 346 442 336 520 286L548 250M262 330C274 352 290 362 306 355"/><path d="M405 235L412 268M414 370L418 412M372 215L384 252" stroke="#000" stroke-width="5"/><circle cx="545" cy="240" r="16" fill="#000"/><path fill="#000" d="M265 470L475 470L482 600L502 694L392 698L376 500L356 698L262 698Z"/><path d="M577 280L480 540" stroke="#000" stroke-width="10"/><path d="M577 280L716 682" stroke="#000" stroke-width="8"/><path d="M575 285L575 560" stroke="#000" stroke-width="7"/><path d="M575 560L575 698" stroke="#9a9a9a" stroke-width="5"/><rect x="513" y="128" width="108" height="27" fill="#000"/><path fill="#000" d="M545 155L600 155L608 200L598 240L548 240L538 205Z"/><path d="M552 178L598 178M548 215L600 215" stroke="#bbb" stroke-width="5"/><rect x="560" y="240" width="32" height="45" fill="#000"/></g>
<g transform="translate(600.00 635.00) scale(0.13266)"><path fill="#7ebe7c" d="M160 662C135 600 150 450 215 360C280 270 380 215 470 218C600 222 740 290 810 400C860 480 860 590 822 662Z"/><rect x="160" y="662" width="668" height="29" fill="#000"/><path fill="#000" d="M265 75L365 75L365 165L335 202L295 202L265 165Z"/><path d="M281 84L281 160L300 185" stroke="#f0f0f0" stroke-width="6" fill="none"/><path d="M316 200C326 240 300 255 268 266C232 286 270 318 356 286" fill="none" stroke="#000" stroke-width="15" stroke-linecap="round"/><path d="M285 305L170 430M325 305L450 430" stroke="#000" stroke-width="3"/><path d="M292 308L230 430M318 308L375 430" stroke="#000" stroke-width="3" stroke-dasharray="9 6"/><rect x="128" y="430" width="354" height="115" fill="#000"/><path fill="#000" d="M585 282L692 282L702 420L748 662L702 662L610 495L500 662L466 662L562 400Z"/><circle cx="634" cy="240" r="28" fill="#000"/><ellipse cx="656" cy="222" rx="22" ry="15" transform="rotate(35 656 222)" fill="#f4f4f4"/><path d="M622 195L640 215" stroke="#000" stroke-width="5"/><path d="M575 270C532 240 498 200 506 158" fill="none" stroke="#000" stroke-width="18" stroke-linecap="round"/><path fill="#000" d="M700 262L812 200L826 210L728 292Z"/><path fill="#f4f4f4" d="M545 248L580 236L606 276L576 300ZM664 266L712 250L730 286L686 316ZM612 266L656 266L650 292L620 292Z"/></g>
<g transform="translate(270.00 635.00) scale(0.13266)"><path fill="#000" d="M318 560L574 560L568 676L308 676Z"/><path fill="#000" d="M440 262L530 288L622 322L700 380L762 442L752 492L692 542L600 566L560 600L420 600L380 300Z"/><path fill="#fff" stroke="#000" stroke-width="4" stroke-linejoin="round" d="M372 268L288 325L264 392L232 480L240 512L282 532L312 520L320 566L402 566L470 330L400 325Z"/><path fill="#fff" stroke="#000" stroke-width="4" stroke-linejoin="round" d="M372 165L470 160L478 200L466 236L440 242L452 268L400 325L372 268L392 232L378 200Z"/><path fill="#000" d="M345 185L378 175L392 232L372 262L362 225ZM418 165L470 160L468 176L420 180ZM440 242L452 268L420 300L405 250Z"/><path fill="#000" d="M395 178L440 172L446 186L412 196ZM452 205L470 200L466 222L450 226ZM405 215L432 236L440 242L410 250Z"/><path fill="#fff" stroke="#000" stroke-width="5" stroke-linejoin="round" d="M327 192C318 132 358 88 410 88C456 88 486 120 492 150L506 158L490 166L382 160C356 165 340 180 332 196Z"/><path d="M382 160C370 130 390 100 410 90" fill="none" stroke="#000" stroke-width="3"/><path d="M328 190C345 172 362 164 384 160L498 156" fill="none" stroke="#000" stroke-width="11" stroke-linecap="round"/><path fill="#fff" stroke="#000" stroke-width="4" stroke-linejoin="round" d="M700 436L740 432L722 492L648 548L565 580L545 610L520 585L508 612L492 580L470 575L500 555L580 540L648 512L690 478Z"/><path d="M610 375L628 408M640 520L700 470" stroke="#fff" stroke-width="6"/><path fill="#fff" stroke="#000" stroke-width="5" stroke-linejoin="round" d="M295 385L440 335L550 510L400 566Z"/><path fill="#fff" stroke="#000" stroke-width="3" d="M320 370L430 330L440 338L330 380Z"/><path d="M470 330L545 312M480 352L548 338M490 372L540 362" stroke="#fff" stroke-width="9" stroke-linecap="round"/><path fill="#fff" stroke="#000" stroke-width="4" stroke-linejoin="round" d="M280 455L340 440L378 452L372 480L330 495L285 500Z"/><path d="M235 683L752 683" stroke="#000" stroke-width="8"/></g>
<g transform="translate(66.10 501.70) scale(0.13266)"><path fill="#000" d="M318 560L574 560L568 676L308 676Z"/><path fill="#000" d="M440 262L530 288L622 322L700 380L762 442L752 492L692 542L600 566L560 600L420 600L380 300Z"/><path fill="#fff" stroke="#000" stroke-width="4" stroke-linejoin="round" d="M372 268L288 325L264 392L232 480L240 512L282 532L312 520L320 566L402 566L470 330L400 325Z"/><path fill="#fff" stroke="#000" stroke-width="4" stroke-linejoin="round" d="M372 165L470 160L478 200L466 236L440 242L452 268L400 325L372 268L392 232L378 200Z"/><path fill="#000" d="M345 185L378 175L392 232L372 262L362 225ZM418 165L470 160L468 176L420 180ZM440 242L452 268L420 300L405 250Z"/><path fill="#000" d="M395 178L440 172L446 186L412 196ZM452 205L470 200L466 222L450 226ZM405 215L432 236L440 242L410 250Z"/><path fill="#fff" stroke="#000" stroke-width="5" stroke-linejoin="round" d="M327 192C318 132 358 88 410 88C456 88 486 120 492 150L506 158L490 166L382 160C356 165 340 180 332 196Z"/><path d="M382 160C370 130 390 100 410 90" fill="none" stroke="#000" stroke-width="3"/><path d="M328 190C345 172 362 164 384 160L498 156" fill="none" stroke="#000" stroke-width="11" stroke-linecap="round"/><path fill="#fff" stroke="#000" stroke-width="4" stroke-linejoin="round" d="M700 436L740 432L722 492L648 548L565 580L545 610L520 585L508 612L492 580L470 575L500 555L580 540L648 512L690 478Z"/><path d="M610 375L628 408M640 520L700 470" stroke="#fff" stroke-width="6"/><path fill="#fff" stroke="#000" stroke-width="5" stroke-linejoin="round" d="M295 385L440 335L550 510L400 566Z"/><path fill="#fff" stroke="#000" stroke-width="3" d="M320 370L430 330L440 338L330 380Z"/><path d="M470 330L545 312M480 352L548 338M490 372L540 362" stroke="#fff" stroke-width="9" stroke-linecap="round"/><path fill="#fff" stroke="#000" stroke-width="4" stroke-linejoin="round" d="M280 455L340 440L378 452L372 480L330 495L285 500Z"/><path d="M235 683L752 683" stroke="#000" stroke-width="8"/></g>
<g font-family="'Liberation Sans','Noto Sans CJK SC',sans-serif" font-size="20.7" font-weight="bold" fill="#1150c0">
<text x="506.8" y="267.5">甲方</text>
<text x="145.8" y="384.6">咨询方</text>
<text x="754" y="392.2">建筑师</text>
<text x="818.3" y="616.4">工程师</text>
<text x="635" y="752.2">施工方</text>
<text x="302" y="752.2">供应商</text>
<text x="98" y="619.2">监理方</text>
</g>
<g transform="translate(480.0 337.5) rotate(0.0)"><path d="M-23.6 -26.2L0.0 -32.0L23.6 -26.2L23.6 26.2L0.0 32.0L-23.6 26.2Z" fill="#ebebeb" stroke="#0b6fc7" stroke-width="3.7" stroke-linejoin="miter"/><text x="0" y="-3.6" text-anchor="middle" font-size="14.7" font-weight="bold" fill="#0b6fc7" font-family="'Liberation Sans','Noto Sans CJK SC',sans-serif">建设</text><text x="0" y="14.4" text-anchor="middle" font-size="14.7" font-weight="bold" fill="#0b6fc7" font-family="'Liberation Sans','Noto Sans CJK SC',sans-serif">意图</text></g>
<g transform="translate(264.5 395.6) rotate(-56.3)"><path d="M-24.3 -27.0L0.0 -33.0L24.3 -27.0L24.3 27.0L0.0 33.0L-24.3 27.0Z" fill="#ebebeb" stroke="#0b6fc7" stroke-width="3.7" stroke-linejoin="miter"/><text x="0" y="-3.4" text-anchor="middle" font-size="13.6" font-weight="bold" fill="#0b6fc7" font-family="'Liberation Serif','Noto Serif CJK SC',serif">相关</text><text x="0" y="13.1" text-anchor="middle" font-size="13.6" font-weight="bold" fill="#0b6fc7" font-family="'Liberation Serif','Noto Serif CJK SC',serif">信息</text></g>
<g transform="translate(696.5 398.8) rotate(56.0)"><path d="M-24.3 -27.0L0.0 -33.0L24.3 -27.0L24.3 27.0L0.0 33.0L-24.3 27.0Z" fill="#ebebeb" stroke="#0b6fc7" stroke-width="3.7" stroke-linejoin="miter"/><text x="0" y="-3.4" text-anchor="middle" font-size="13.6" font-weight="bold" fill="#0b6fc7" font-family="'Liberation Serif','Noto Serif CJK SC',serif">建筑</text><text x="0" y="13.1" text-anchor="middle" font-size="13.6" font-weight="bold" fill="#0b6fc7" font-family="'Liberation Serif','Noto Serif CJK SC',serif">信息</text></g>
<g transform="translate(229.6 531.6) rotate(66.4)"><path d="M-23.6 -26.2L0.0 -32.0L23.6 -26.2L23.6 26.2L0.0 32.0L-23.6 26.2Z" fill="#ebebeb" stroke="#0b6fc7" stroke-width="3.7" stroke-linejoin="miter"/><text x="0" y="-3.4" text-anchor="middle" font-size="13.6" font-weight="bold" fill="#0b6fc7" font-family="'Liberation Serif','Noto Serif CJK SC',serif">质量</text><text x="0" y="13.1" text-anchor="middle" font-size="13.6" font-weight="bold" fill="#0b6fc7" font-family="'Liberation Serif','Noto Serif CJK SC',serif">信息</text></g>
<g transform="translate(388.1 610.2) rotate(32.0)"><path d="M-23.6 -26.2L0.0 -32.0L23.6 -26.2L23.6 26.2L0.0 32.0L-23.6 26.2Z" fill="#ebebeb" stroke="#0b6fc7" stroke-width="3.7" stroke-linejoin="miter"/><text x="0" y="-3.4" text-anchor="middle" font-size="13.6" font-weight="bold" fill="#0b6fc7" font-family="'Liberation Serif','Noto Serif CJK SC',serif">产品</text><text x="0" y="13.1" text-anchor="middle" font-size="13.6" font-weight="bold" fill="#0b6fc7" font-family="'Liberation Serif','Noto Serif CJK SC',serif">信息</text></g>
<g transform="translate(604.9 607.4) rotate(-33.5)"><path d="M-23.6 -26.2L0.0 -32.0L23.6 -26.2L23.6 26.2L0.0 32.0L-23.6 26.2Z" fill="#ebebeb" stroke="#0b6fc7" stroke-width="3.7" stroke-linejoin="miter"/><text x="0" y="-3.4" text-anchor="middle" font-size="13.6" font-weight="bold" fill="#0b6fc7" font-family="'Liberation Serif','Noto Serif CJK SC',serif">施工</text><text x="0" y="13.1" text-anchor="middle" font-size="13.6" font-weight="bold" fill="#0b6fc7" font-family="'Liberation Serif','Noto Serif CJK SC',serif">信息</text></g>
<g transform="translate(738.9 526.6) rotate(-66.5)"><path d="M-23.4 -25.9L0.0 -31.7L23.4 -25.9L23.4 25.9L0.0 31.7L-23.4 25.9Z" fill="#ebebeb" stroke="#0b6fc7" stroke-width="3.7" stroke-linejoin="miter"/><text x="0" y="-3.4" text-anchor="middle" font-size="13.6" font-weight="bold" fill="#0b6fc7" font-family="'Liberation Serif','Noto Serif CJK SC',serif">设计</text><text x="0" y="13.1" text-anchor="middle" font-size="13.6" font-weight="bold" fill="#0b6fc7" font-family="'Liberation Serif','Noto Serif CJK SC',serif">信息</text></g>
<g transform="translate(0 714) scale(0.16227)" fill="none" stroke="#b4b4b4" stroke-width="4.5"><rect x="0" y="92" width="7" height="33" fill="#8c8c8c" stroke="none"/><rect x="78" y="113" width="116" height="93"/><path d="M88 135l10-10 10 10 10-10 10 10 10-10 10 10 10-10 10 10 8-8M86 152h100"/><rect x="140" y="165" width="36" height="28"/><path d="M92 185l14-18 14 14M108 180v16h12"/><ellipse cx="331" cy="158" rx="68" ry="48" transform="rotate(-22 331 158)"/><path d="M308 185l22-10" stroke="#8a8a8a" stroke-width="7" stroke-linecap="round"/><path d="M532 102Q546 90 558 102L586 130Q596 142 586 156L524 220Q512 232 500 220L474 194Q464 182 474 168Z" fill="#e6e6e6"/><path d="M690 96L690 210L720 186L744 230L760 222L738 180L780 176Z" stroke="#8e8e8e" fill="#f4f4f4" stroke-linejoin="round"/></g></svg></body></html>
